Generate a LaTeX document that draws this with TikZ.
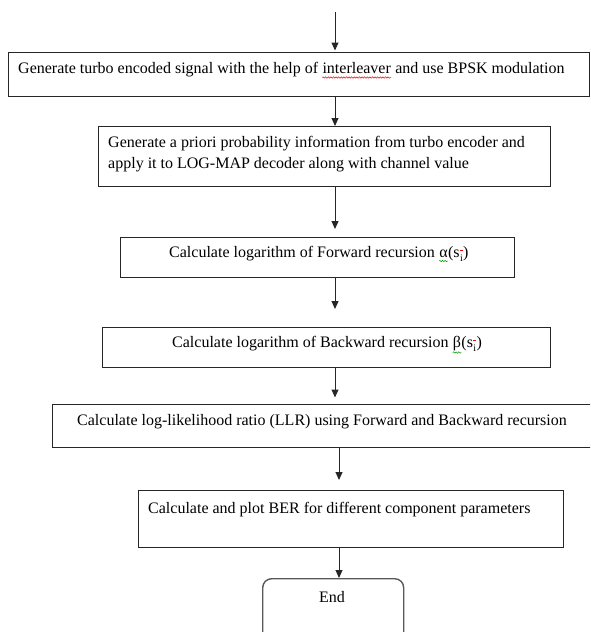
\documentclass[tikz,border=0pt]{standalone}
\usepackage{fontspec}
\setmainfont{Liberation Serif}
\usetikzlibrary{arrows.meta,decorations.pathmorphing}
\begin{document}
\begin{tikzpicture}[x=1pt,y=-1pt,
  box/.style={draw=black!85, line width=1.2pt, inner sep=0pt, anchor=north west},
  txt/.style={inner sep=0pt, anchor=base west, font=\fontsize{16}{19}\selectfont},
  subtxt/.style={inner sep=0pt, anchor=base west, font=\fontsize{10}{11}\selectfont},
  arr/.style={draw=black!85, line width=1pt, -{Triangle[length=8pt,width=7pt]}},
  squig/.style={draw=#1, line width=0.5pt, decorate,
                decoration={snake, amplitude=0.7pt, segment length=2.6pt}}]
\useasboundingbox (0,0) rectangle (590,632);
\clip (0,0) rectangle (590,632);
% boxes
\node[box, minimum width=581pt, minimum height=44pt] (b1) at (8,52) {};
\node[box, minimum width=452pt, minimum height=60pt] (b2) at (98,126) {};
\node[box, minimum width=394pt, minimum height=40pt] (b3) at (120,237) {};
\node[box, minimum width=448pt, minimum height=40pt] (b4) at (102,327) {};
\node[box, minimum width=545pt, minimum height=43pt] (b5) at (52,404) {};
\node[box, minimum width=425pt, minimum height=57pt] (b6) at (138,490) {};
\node[box, draw=black!65, line width=1.4pt, rounded corners=9pt,
      minimum width=141pt, minimum height=70pt] (bend) at (262,578) {};
% texts
\node[txt] (t1a) at (18,73) {Generate turbo encoded signal with the help of};
\node[txt] (t1b) at ([xshift=4pt]t1a.base east) {interleaver};
\node[txt] (t1c) at ([xshift=4pt]t1b.base east) {and use BPSK modulation};
\draw[squig=red] ([yshift=-4.5pt]t1b.base west) -- ([yshift=-4.5pt]t1b.base east);

\node[txt] (t2a) at (108,147) {Generate a priori probability information from turbo encoder and};
\node[txt] (t2b) at (108,168) {apply it to LOG-MAP decoder along with channel value};

\node[txt] (t3a) at (169,257) {Calculate logarithm of Forward recursion};
\node[txt] (t3b) at ([xshift=4pt]t3a.base east) {α};
\node[txt] (t3c) at (t3b.base east) {(s};
\node[subtxt] (t3d) at ([yshift=-4pt]t3c.base east) {i};
\node[txt] (t3e) at ([yshift=4pt]t3d.base east) {)};
\draw[squig=green!60!black] ([yshift=-4pt]t3b.base west) -- ([yshift=-4pt]t3b.base east);
\draw[draw=red, line width=0.7pt] ([yshift=4pt]t3d.north west) -- ([yshift=4pt]t3d.north east);

\node[txt] (t4a) at (172,347) {Calculate logarithm of Backward recursion};
\node[txt] (t4b) at ([xshift=4pt]t4a.base east) {β};
\node[txt] (t4c) at (t4b.base east) {(s};
\node[subtxt] (t4d) at ([yshift=-4pt]t4c.base east) {i};
\node[txt] (t4e) at ([yshift=4pt]t4d.base east) {)};
\draw[squig=green!60!black] ([yshift=-5.5pt]t4b.base west) -- ([yshift=-5.5pt]t4b.base east);
\draw[draw=red, line width=0.7pt] ([yshift=4pt]t4d.north west) -- ([yshift=4pt]t4d.north east);

\node[txt] (t5) at (77,425) {Calculate log-likelihood ratio (LLR) using Forward and Backward recursion};
\node[txt] (t6) at (148,513) {Calculate and plot BER for different component parameters};
\node[txt, anchor=base] (tend) at (332,602) {End};
% connectors
\coordinate (start) at (335,12);
\coordinate (ca) at (335,0);
\coordinate (cb) at (339,0);
\draw[arr, shorten >=1.5pt] (start) -- (b1.north -| start);
\draw[arr] (b1.south -| ca) -- (b2.north -| ca);
\draw[arr, shorten >=8pt] (b2.south -| ca) -- (b3.north -| ca);
\draw[arr, shorten >=18pt] (b3.south -| ca) -- (b4.north -| ca);
\draw[arr, shorten >=6.5pt] (b4.south -| ca) -- (b5.north -| ca);
\draw[arr, shorten >=10pt] (b5.south -| cb) -- (b6.north -| cb);
\draw[arr] (b6.south -| cb) -- (bend.north -| cb);
\end{tikzpicture}
\end{document}
